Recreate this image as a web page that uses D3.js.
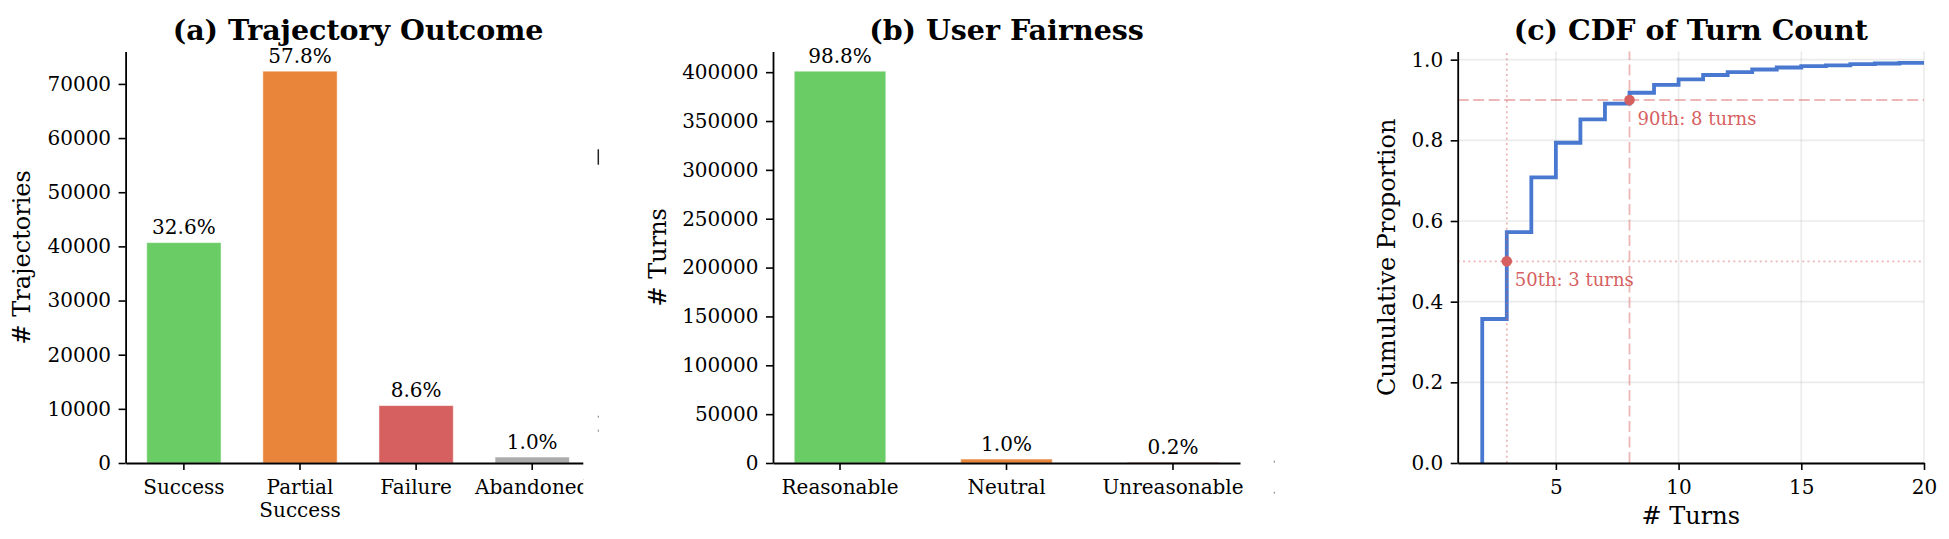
<!DOCTYPE html>
<html>
<head>
<meta charset="utf-8">
<script src="https://cdn.jsdelivr.net/npm/d3@7"></script>
<style>
  html, body { margin: 0; padding: 0; background: #fff; }
  svg { display: block; font-family: "DejaVu Serif", serif; }
</style>
</head>
<body>
<svg id="chart"></svg>
<script>
// ----------------------------------
// 1) Data
// ----------------------------------
const outcomeCats = ["Success", "Partial\nSuccess", "Failure", "Abandoned"];
const outcomeCounts = [40700, 72350, 10600, 1100];
const outcomePct = [32.6, 57.8, 8.6, 1.0];
const outcomeColors = ["#6acc64", "#e8853b", "#d65f5f", "#ababab"];
const outcomeTicks = [0, 10000, 20000, 30000, 40000, 50000, 60000, 70000];

const fairCats = ["Reasonable", "Neutral", "Unreasonable"];
const fairCounts = [401000, 4050, 810];
const fairPct = [98.8, 1.0, 0.2];
const fairColors = ["#6acc64", "#e8853b", "#d65f5f"];
const fairTicks = [0, 50000, 100000, 150000, 200000, 250000, 300000, 350000, 400000];

// CDF of turn count (value reached at each turn count)
const turnValues = [2, 3, 4, 5, 6, 7, 8, 9, 10, 11, 12, 13, 14, 15, 16, 17, 18, 19, 20];
const cdfValues = [0.357, 0.5725, 0.708, 0.794, 0.852, 0.891, 0.918, 0.9376, 0.951, 0.962,
                   0.969, 0.9756, 0.9806, 0.984, 0.986, 0.989, 0.9905, 0.992, 0.9938];
const pctNames = ["50th", "90th"];
const pctLevels = [0.5, 0.9];
const pctTurns = [3, 8];
const cdfXTicks = [5, 10, 15, 20];
const cdfYTicks = [0, 0.2, 0.4, 0.6, 0.8, 1.0];

// ----------------------------------
// 2) Setup SVG
// ----------------------------------
const width = 1949;
const height = 539;
const svg = d3.select("#chart").attr("width", width).attr("height", height);

const plotTop = 51.6;
const plotBottom = 463;
const tickFont = "20px";
const red = "#d65f5f";

function styleAxis(g) {
  g.attr("font-family", null).attr("font-size", null);
  g.select(".domain").attr("stroke", "#000").attr("stroke-width", 1.8);
  g.selectAll(".tick line").attr("stroke", "#000").attr("stroke-width", 1.6);
  g.selectAll(".tick text").attr("fill", "#000").style("font-size", tickFont);
}

function addTitle(g, cx, txt) {
  g.append("text")
    .attr("x", cx).attr("y", 39.5)
    .attr("text-anchor", "middle")
    .style("font-size", "28.5px").style("font-weight", "bold")
    .text(txt);
}

function addYLabel(g, bx, txt) {
  g.append("text")
    .attr("transform", `translate(${bx},${(plotTop + plotBottom) / 2}) rotate(-90)`)
    .attr("text-anchor", "middle")
    .style("font-size", "24px")
    .text(txt);
}

// ----------------------------------
// 3) Bar panels
// ----------------------------------
function barPanel(g, cfg) {
  const n = cfg.cats.length;
  const x = d3.scaleBand()
    .domain(d3.range(n))
    .range([cfg.x0, cfg.x1])
    .paddingInner(1 - cfg.barW)
    .paddingOuter(0.05 * (n - 1 + cfg.barW));
  const y = d3.scaleLinear()
    .domain([0, d3.max(cfg.counts) * 1.05])
    .range([plotBottom, plotTop]);

  g.selectAll(".bar")
    .data(cfg.counts)
    .enter()
    .append("rect")
    .attr("class", "bar")
    .attr("x", (d, i) => x(i))
    .attr("width", x.bandwidth())
    .attr("y", d => y(d))
    .attr("height", d => y(0) - y(d))
    .attr("fill", (d, i) => cfg.colors[i])
    .attr("stroke", "#fff")
    .attr("stroke-opacity", 0.5)
    .attr("stroke-width", 1);

  g.selectAll(".pct")
    .data(cfg.counts)
    .enter()
    .append("text")
    .attr("class", "pct")
    .attr("x", (d, i) => x(i) + x.bandwidth() / 2)
    .attr("y", d => y(d) - 8.5)
    .attr("text-anchor", "middle")
    .style("font-size", "20px")
    .text((d, i) => cfg.pct[i].toFixed(1) + "%");

  const yAxis = g.append("g")
    .attr("transform", `translate(${cfg.x0},0)`)
    .call(d3.axisLeft(y).tickValues(cfg.ticks).tickFormat(d3.format("d"))
      .tickSize(7).tickPadding(7.5).tickSizeOuter(0));
  styleAxis(yAxis);

  const xAxis = g.append("g")
    .attr("transform", `translate(0,${plotBottom})`)
    .call(d3.axisBottom(x).tickSize(7).tickPadding(10).tickSizeOuter(0));
  styleAxis(xAxis);
  xAxis.selectAll(".tick text")
    .attr("dy", null)
    .each(function (i) {
      const t = d3.select(this).text(null);
      cfg.cats[i].split("\n").forEach((line, k) => {
        t.append("tspan").attr("x", 0).attr("dy", k === 0 ? "0.71em" : "1.13em").text(line);
      });
    });

  addTitle(g, (cfg.x0 + cfg.x1) / 2, cfg.title);
  addYLabel(g, cfg.labelX, cfg.ylabel);
}

// panel (a) is cut off at its right edge in the source figure
svg.append("defs").append("clipPath").attr("id", "clipA")
  .append("rect").attr("x", 0).attr("y", 0).attr("width", 583.3).attr("height", height);

const gA = svg.append("g").attr("clip-path", "url(#clipA)");
barPanel(gA, {
  cats: outcomeCats, counts: outcomeCounts, pct: outcomePct, colors: outcomeColors,
  ticks: outcomeTicks, x0: 125.6, x1: 590.5, barW: 0.64,
  title: "(a) Trajectory Outcome", ylabel: "# Trajectories", labelX: 29.5
});

const gB = svg.append("g");
barPanel(gB, {
  cats: fairCats, counts: fairCounts, pct: fairPct, colors: fairColors,
  ticks: fairTicks, x0: 773, x1: 1240, barW: 0.55,
  title: "(b) User Fairness", ylabel: "# Turns", labelX: 666
});

// small leftover fragments at panel seams
const seams = svg.append("g").attr("stroke", "#222");
seams.append("line").attr("x1", 598.3).attr("x2", 598.3).attr("y1", 149.3).attr("y2", 164.7).attr("stroke-width", 1.5);
[[598.3, 416.7], [598.3, 430.7], [1274.3, 461.7], [1274.3, 492.7]].forEach(p => {
  seams.append("line").attr("x1", p[0]).attr("x2", p[0]).attr("y1", p[1] - 1).attr("y2", p[1] + 1)
    .attr("stroke-width", 1).attr("stroke-opacity", 0.6);
});

// ----------------------------------
// 4) CDF panel
// ----------------------------------
const gC = svg.append("g");
const cx0 = 1457.7, cx1 = 1924;
const xC = d3.scaleLinear().domain([1, 20]).range([cx0, cx1]);
const yC = d3.scaleLinear().domain([0, 1.02]).range([plotBottom, plotTop]);

svg.select("defs").append("clipPath").attr("id", "clipC")
  .append("rect").attr("x", cx0).attr("y", plotTop).attr("width", cx1 - cx0).attr("height", plotBottom - plotTop);

// grid
const grid = gC.append("g").attr("stroke", "#b0b0b0").attr("stroke-opacity", 0.25).attr("stroke-width", 1.6);
grid.selectAll(".gx").data(cdfXTicks).enter().append("line")
  .attr("x1", d => xC(d)).attr("x2", d => xC(d)).attr("y1", plotTop).attr("y2", plotBottom);
grid.selectAll(".gy").data(cdfYTicks).enter().append("line")
  .attr("x1", cx0).attr("x2", cx1).attr("y1", d => yC(d)).attr("y2", d => yC(d));

// step curve, starting from zero at the smallest turn count
const cdfPoints = [[turnValues[0], 0]].concat(turnValues.map((t, i) => [t, cdfValues[i]]));
const stepLine = d3.line()
  .x(d => xC(d[0]))
  .y(d => yC(d[1]))
  .curve(d3.curveStepAfter);

gC.append("path")
  .datum(cdfPoints)
  .attr("clip-path", "url(#clipC)")
  .attr("d", stepLine)
  .attr("fill", "none")
  .attr("stroke", "#4878d0")
  .attr("stroke-width", 3.8);

// percentile guides
const dashes = ["2,3.3", "11,4.5"];
pctLevels.forEach((lv, i) => {
  const guide = gC.append("g")
    .attr("stroke", red).attr("stroke-opacity", 0.45)
    .attr("stroke-width", 1.8).attr("stroke-dasharray", dashes[i]);
  guide.append("line").attr("x1", cx0).attr("x2", cx1).attr("y1", yC(lv)).attr("y2", yC(lv));
  guide.append("line").attr("x1", xC(pctTurns[i])).attr("x2", xC(pctTurns[i]))
    .attr("y1", plotBottom).attr("y2", plotTop);
});

gC.selectAll(".pdot")
  .data(pctLevels)
  .enter()
  .append("circle")
  .attr("cx", (d, i) => xC(pctTurns[i]))
  .attr("cy", d => yC(d))
  .attr("r", 5.3)
  .attr("fill", red);

gC.selectAll(".plabel")
  .data(pctLevels)
  .enter()
  .append("text")
  .attr("x", (d, i) => xC(pctTurns[i]) + 8)
  .attr("y", d => yC(d) + 24.5)
  .attr("fill", red)
  .style("font-size", "18px")
  .text((d, i) => `${pctNames[i]}: ${pctTurns[i]} turns`);

const yAxisC = gC.append("g")
  .attr("transform", `translate(${cx0},0)`)
  .call(d3.axisLeft(yC).tickValues(cdfYTicks).tickFormat(d3.format(".1f"))
    .tickSize(7).tickPadding(7.5).tickSizeOuter(0));
styleAxis(yAxisC);

const xAxisC = gC.append("g")
  .attr("transform", `translate(0,${plotBottom})`)
  .call(d3.axisBottom(xC).tickValues(cdfXTicks).tickFormat(d3.format("d"))
    .tickSize(7).tickPadding(10).tickSizeOuter(0));
styleAxis(xAxisC);

addTitle(gC, (cx0 + cx1) / 2, "(c) CDF of Turn Count");
addYLabel(gC, 1395, "Cumulative Proportion");

gC.append("text")
  .attr("x", (cx0 + cx1) / 2)
  .attr("y", 524)
  .attr("text-anchor", "middle")
  .style("font-size", "24px")
  .text("# Turns");
</script>
</body>
</html>
